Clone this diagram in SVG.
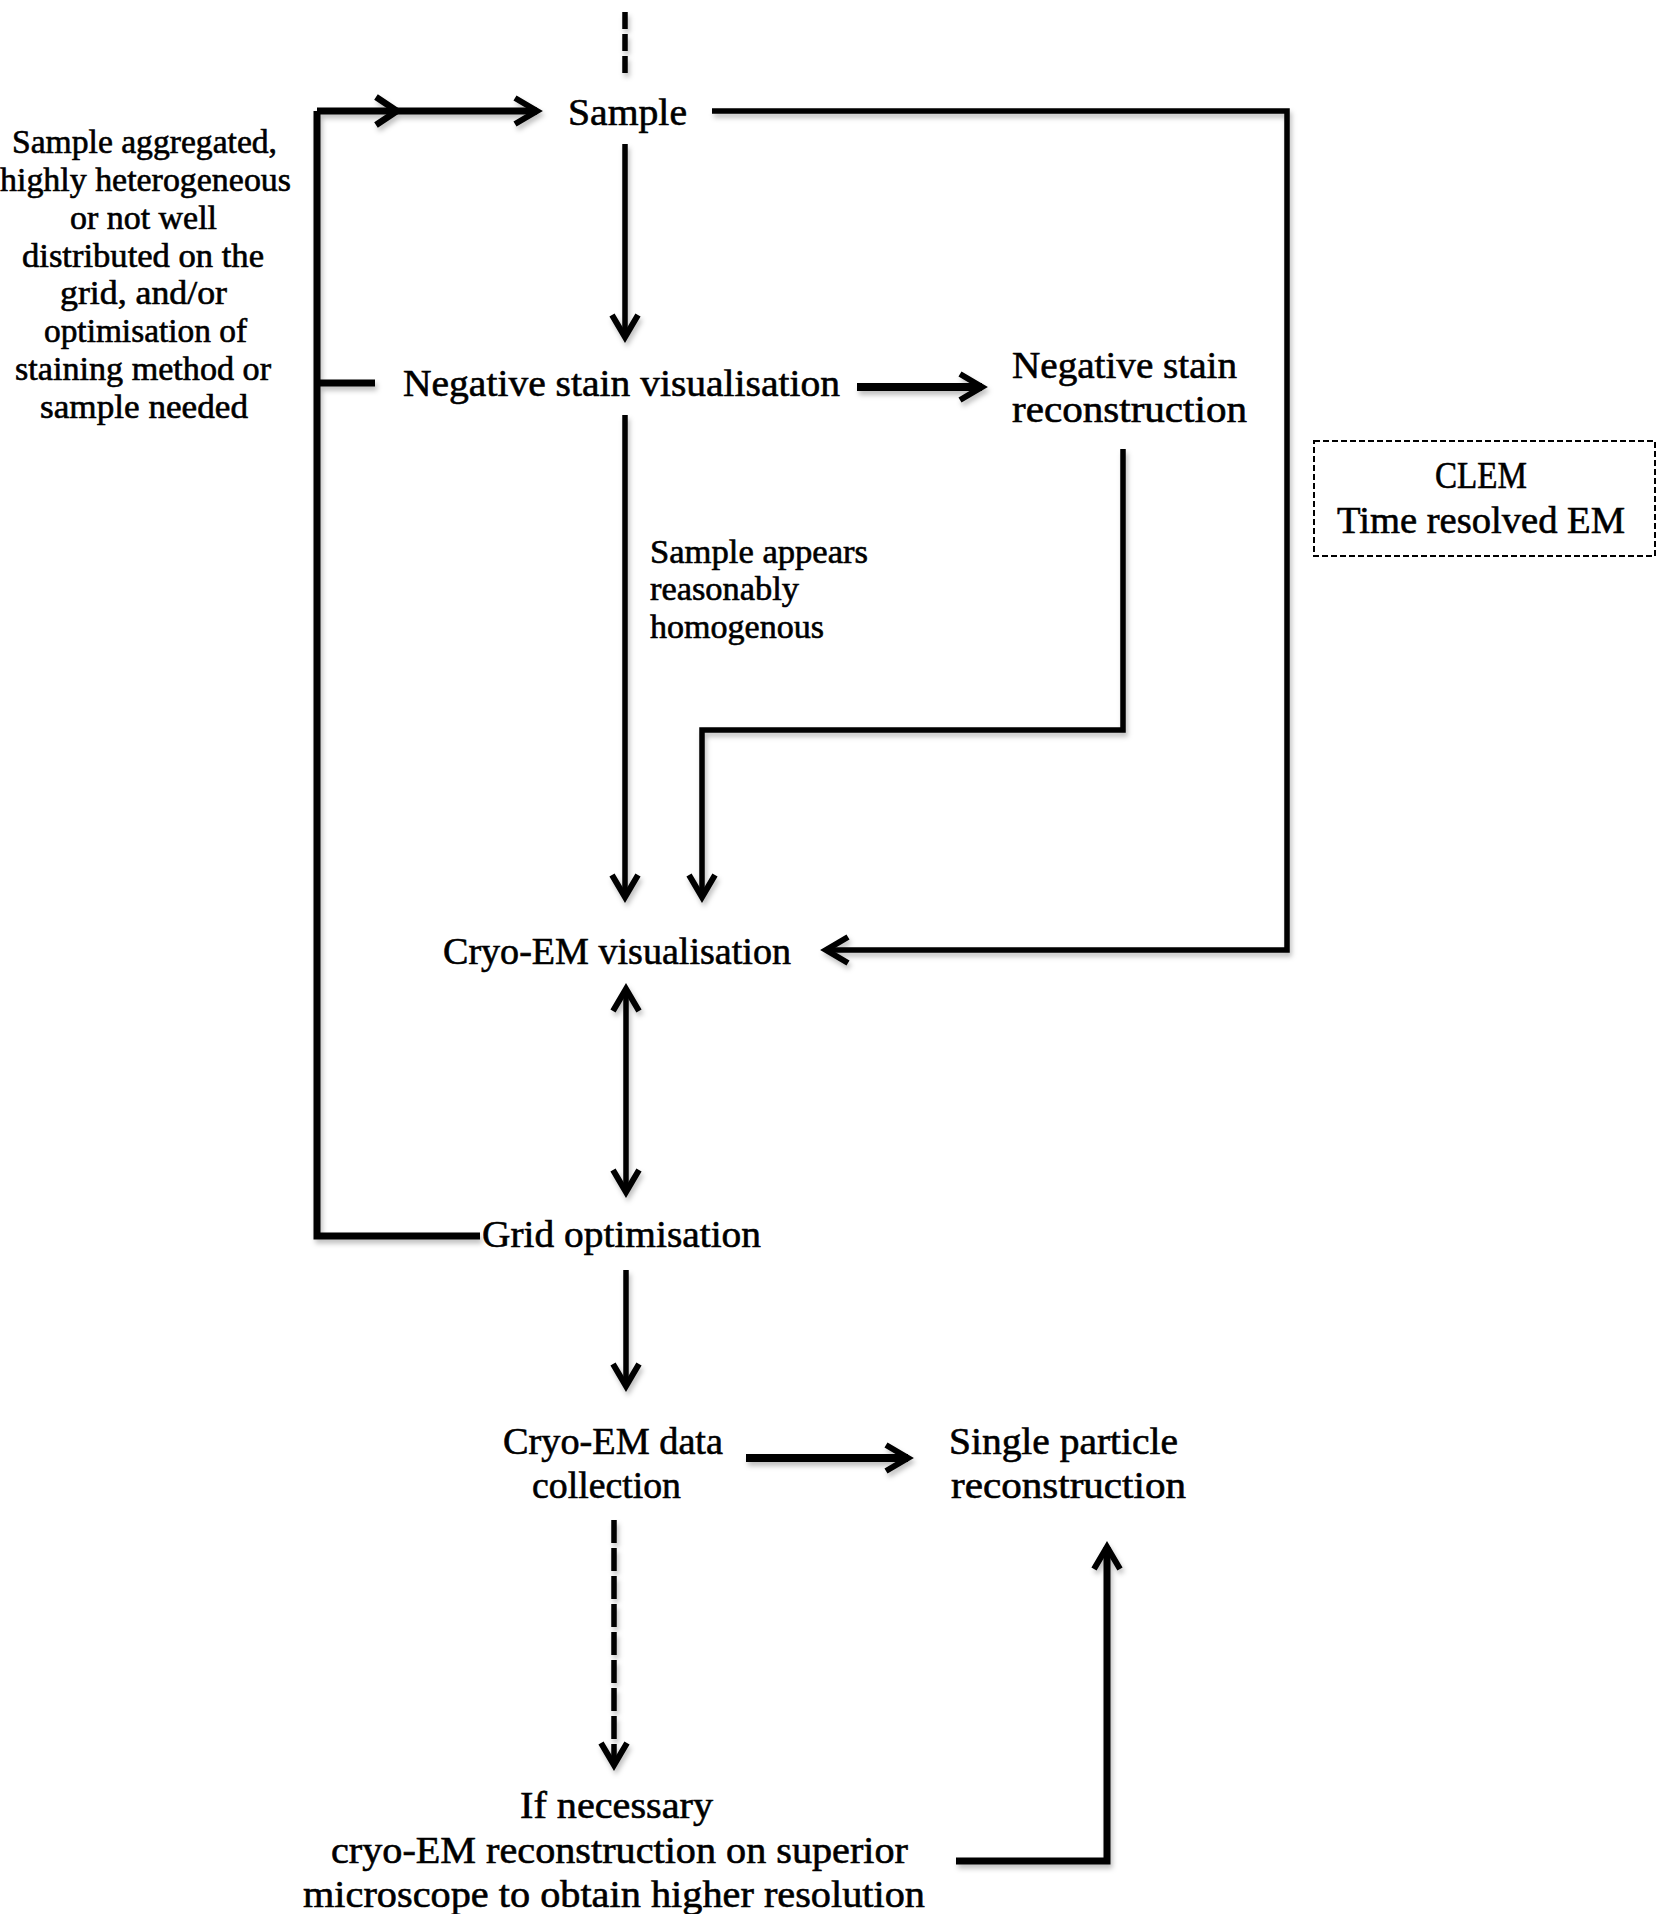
<svg xmlns="http://www.w3.org/2000/svg" width="1658" height="1914" viewBox="0 0 1658 1914">
<defs>
<style>
.t{font-family:"Liberation Serif","DejaVu Serif",serif;fill:#000;stroke:#000;stroke-width:0.6;}
.big{font-size:38px;}
.sm{font-size:33px;}
.c{fill:none;stroke:#000;stroke-width:5.5;stroke-linejoin:miter;}
.k{stroke-width:7;}
.ah{fill:none;stroke:#000;stroke-width:6;}
</style>
<filter id="sh" x="-20%" y="-20%" width="140%" height="140%">
<feDropShadow dx="2" dy="4" stdDeviation="2.5" flood-color="#000" flood-opacity="0.25"/>
</filter>
<marker id="a" markerUnits="userSpaceOnUse" orient="auto-start-reverse" overflow="visible" markerWidth="40" markerHeight="40" refX="0" refY="0">
<path class="ah" d="M-22,-13 L0,0 L-22,13"/>
</marker>
</defs>
<g id="connectors" filter="url(#sh)">
<path class="c" d="M625,12 V73" stroke-dasharray="17 5"/>
<path class="c k" d="M317,111 H537" marker-end="url(#a)"/>
<path class="ah" d="M376,97 L397,111 L376,125" style="stroke-width:6.5"/>
<path class="c k" d="M317,111 V1236 H480"/>
<path class="c k" d="M317,383 H375"/>
<path class="c" d="M625,144 V337" marker-end="url(#a)"/>
<path class="c" d="M712,111 H1287 V950 H826" marker-end="url(#a)"/>
<path class="c" d="M857,387 H982" style="stroke-width:8" marker-end="url(#a)"/>
<path class="c" d="M625,415 V897" marker-end="url(#a)"/>
<path class="c" d="M1123,449 V730 H702 V897" marker-end="url(#a)"/>
<path class="c" d="M626,989 V1192" marker-start="url(#a)" marker-end="url(#a)"/>
<path class="c" d="M626,1270 V1386" marker-end="url(#a)"/>
<path class="c" d="M746,1458 H908" style="stroke-width:8" marker-end="url(#a)"/>
<path class="c" d="M614,1520 V1765" stroke-dasharray="23 5" marker-end="url(#a)"/>
<path class="c k" d="M956,1861 H1107 V1547" marker-end="url(#a)"/>
</g>
<g id="note-left">
<text class="t sm" x="12" y="153" textLength="265" lengthAdjust="spacingAndGlyphs">Sample aggregated,</text>
<text class="t sm" x="0" y="191" textLength="291" lengthAdjust="spacingAndGlyphs">highly heterogeneous</text>
<text class="t sm" x="70" y="229" textLength="147" lengthAdjust="spacingAndGlyphs">or not well</text>
<text class="t sm" x="22" y="267" textLength="242" lengthAdjust="spacingAndGlyphs">distributed on the</text>
<text class="t sm" x="60" y="304" textLength="167" lengthAdjust="spacingAndGlyphs">grid, and/or</text>
<text class="t sm" x="44" y="342" textLength="203" lengthAdjust="spacingAndGlyphs">optimisation of</text>
<text class="t sm" x="15" y="380" textLength="256" lengthAdjust="spacingAndGlyphs">staining method or</text>
<text class="t sm" x="40" y="418" textLength="208" lengthAdjust="spacingAndGlyphs">sample needed</text>
</g>
<g id="sample"><text class="t big" x="568" y="125" textLength="119" lengthAdjust="spacingAndGlyphs">Sample</text></g>
<g id="neg-vis"><text class="t big" x="403" y="396" textLength="437" lengthAdjust="spacingAndGlyphs">Negative stain visualisation</text></g>
<g id="neg-recon">
<text class="t big" x="1012" y="378" textLength="225" lengthAdjust="spacingAndGlyphs">Negative stain</text>
<text class="t big" x="1012" y="422" textLength="235" lengthAdjust="spacingAndGlyphs">reconstruction</text>
</g>
<g id="label-homog">
<text class="t sm" x="650" y="563" textLength="218" lengthAdjust="spacingAndGlyphs">Sample appears</text>
<text class="t sm" x="650" y="600" textLength="149" lengthAdjust="spacingAndGlyphs">reasonably</text>
<text class="t sm" x="650" y="638" textLength="174" lengthAdjust="spacingAndGlyphs">homogenous</text>
</g>
<g id="clem">
<rect x="1314" y="441" width="341" height="115" fill="none" stroke="#000" stroke-width="2" stroke-dasharray="6 3"/>
<text class="t big" x="1435" y="488" textLength="92" lengthAdjust="spacingAndGlyphs">CLEM</text>
<text class="t big" x="1337" y="533" textLength="288" lengthAdjust="spacingAndGlyphs">Time resolved EM</text>
</g>
<g id="cryo-vis"><text class="t big" x="443" y="964" textLength="348" lengthAdjust="spacingAndGlyphs">Cryo-EM visualisation</text></g>
<g id="grid-opt"><text class="t big" x="482" y="1247" textLength="279" lengthAdjust="spacingAndGlyphs">Grid optimisation</text></g>
<g id="cryo-data">
<text class="t big" x="503" y="1454" textLength="220" lengthAdjust="spacingAndGlyphs">Cryo-EM data</text>
<text class="t big" x="532" y="1498" textLength="149" lengthAdjust="spacingAndGlyphs">collection</text>
</g>
<g id="single">
<text class="t big" x="949" y="1454" textLength="229" lengthAdjust="spacingAndGlyphs">Single particle</text>
<text class="t big" x="951" y="1498" textLength="235" lengthAdjust="spacingAndGlyphs">reconstruction</text>
</g>
<g id="superior">
<text class="t big" x="520" y="1818" textLength="193" lengthAdjust="spacingAndGlyphs">If necessary</text>
<text class="t big" x="331" y="1863" textLength="577" lengthAdjust="spacingAndGlyphs">cryo-EM reconstruction on superior</text>
<text class="t big" x="303" y="1907" textLength="622" lengthAdjust="spacingAndGlyphs">microscope  to obtain higher resolution</text>
</g>
</svg>
